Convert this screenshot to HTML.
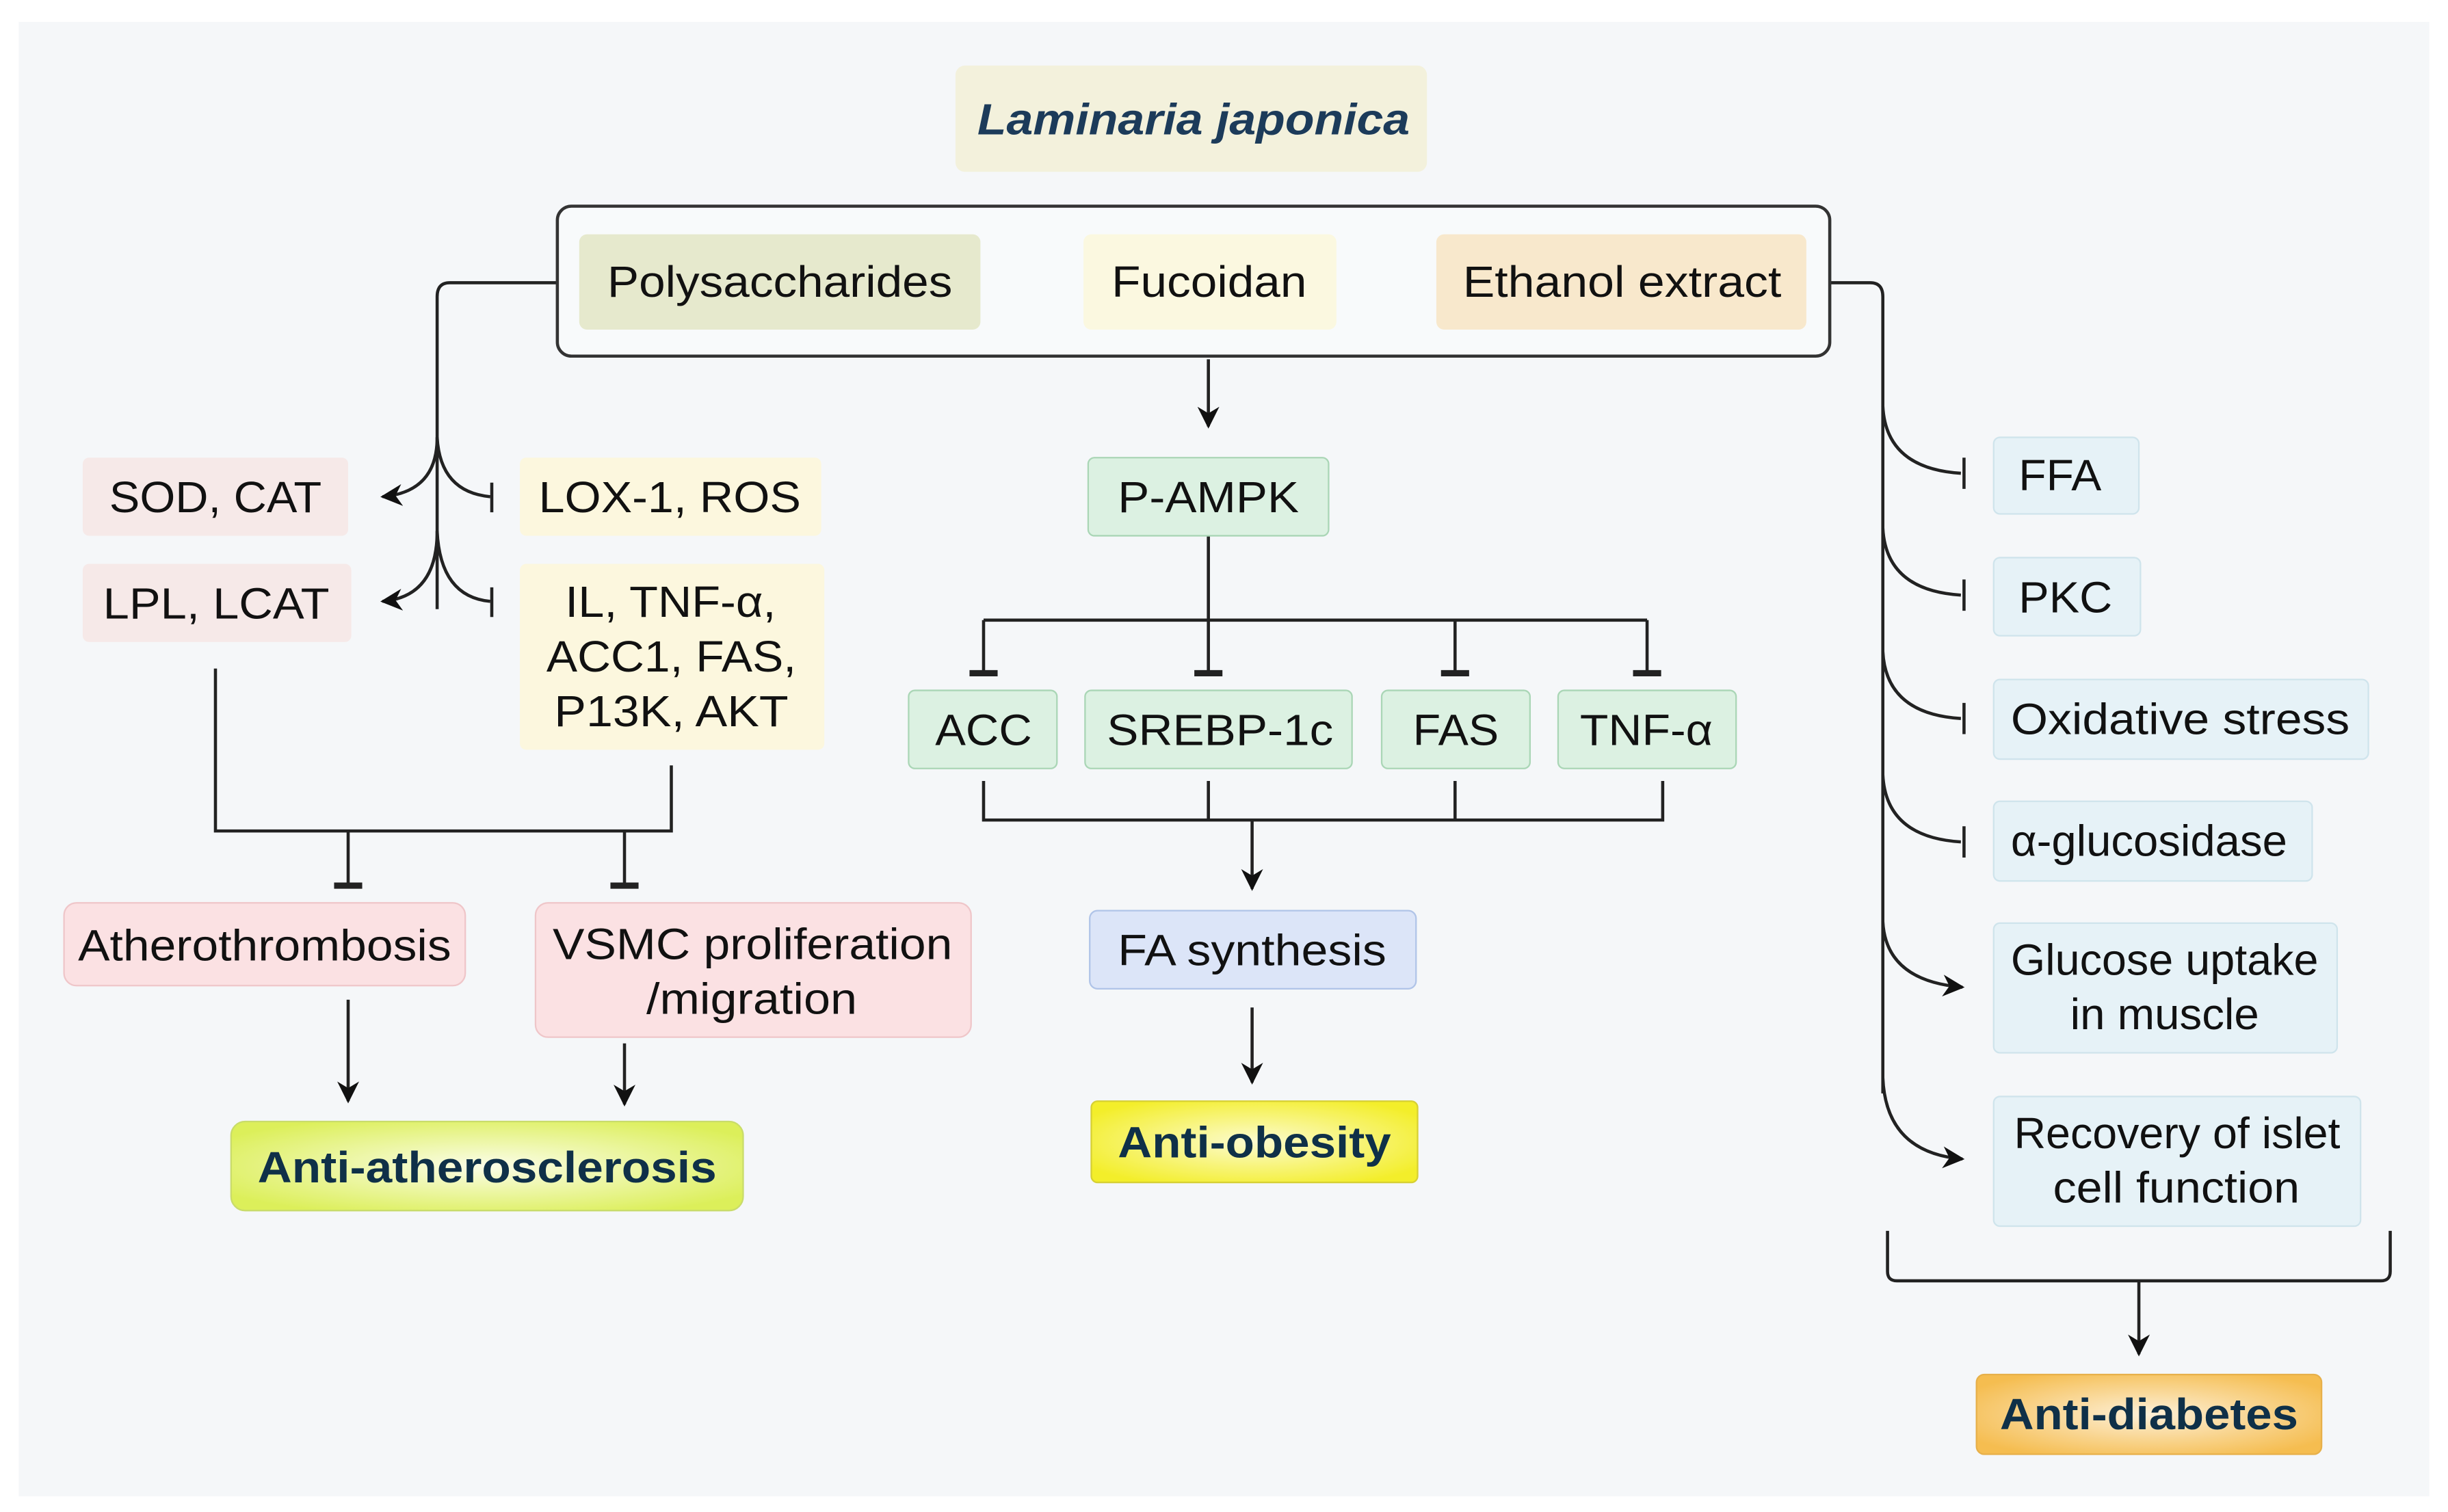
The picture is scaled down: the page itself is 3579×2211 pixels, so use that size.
<!DOCTYPE html>
<html><head><meta charset="utf-8"><style>
html,body{margin:0;padding:0;background:#fff;}
svg{display:block;}
text{font-family:"Liberation Sans",sans-serif;fill:#111;}
</style></head><body>
<svg width="3579" height="2211" viewBox="0 0 1568 968" preserveAspectRatio="none" xmlns="http://www.w3.org/2000/svg">
<defs>
<radialGradient id="gy" cx="50%" cy="50%" r="60%"><stop offset="0" stop-color="#fbfde8"/><stop offset="1" stop-color="#dcef5a"/></radialGradient>
<radialGradient id="gyel" cx="50%" cy="50%" r="60%"><stop offset="0" stop-color="#fcfbd0"/><stop offset="1" stop-color="#f3ee2a"/></radialGradient>
<radialGradient id="gor" cx="50%" cy="50%" r="60%"><stop offset="0" stop-color="#fdf0d8"/><stop offset="1" stop-color="#f5bd50"/></radialGradient>
<marker id="ar" viewBox="0 0 10 10" refX="9" refY="5" markerWidth="7" markerHeight="7" orient="auto"><path d="M0,0 L10,5 L0,10 L3,5 z" fill="#111"/></marker>
</defs>
<rect x="0" y="0" width="1568" height="968" fill="#fff"/>
<rect x="12" y="14" width="1544" height="944" fill="#f5f7f9"/>

<g stroke="#222" stroke-width="2" fill="none">
<path d="M357,181 H288 Q280,181 280,190 V390"/>
<path d="M280,280 Q280,315 245,318" marker-end="url(#ar)"/>
<path d="M280,280 Q282,315 314,318"/><path d="M315,309 V328"/>
<path d="M280,340 Q280,382 245,385" marker-end="url(#ar)"/>
<path d="M280,340 Q282,382 314,385"/><path d="M315,376 V395"/>
<path d="M138,428 V532 H430 V490"/>
<path d="M223,532 V566"/><path d="M400,532 V566"/>
<path d="M223,640 V705" marker-end="url(#ar)"/>
<path d="M400,668 V707" marker-end="url(#ar)"/>
<path d="M774,230 V273" marker-end="url(#ar)"/>
<path d="M774,343 V397 M630,397 H1055 M630,397 V430 M774,397 V430 M932,397 V430 M1055,397 V430"/>
<path d="M630,500 V525 H1065 V500 M774,500 V525 M932,500 V525"/>
<path d="M802,525 V569" marker-end="url(#ar)"/>
<path d="M802,645 V693" marker-end="url(#ar)"/>
<path d="M1172,181 H1198 Q1206,181 1206,190 V700"/>
<path d="M1206,260 Q1208,300 1256,303"/><path d="M1258,293 V313"/>
<path d="M1206,338 Q1208,378 1256,381"/><path d="M1258,371 V391"/>
<path d="M1206,417 Q1208,457 1256,460"/><path d="M1258,450 V470"/>
<path d="M1206,496 Q1208,536 1256,539"/><path d="M1258,529 V549"/>
<path d="M1206,590 Q1208,628 1257,632" marker-end="url(#ar)"/>
<path d="M1206,690 Q1208,738 1257,742" marker-end="url(#ar)"/>
<path d="M1209,788 V814 Q1209,820 1215,820 H1525 Q1531,820 1531,814 V788"/>
<path d="M1370,820 V867" marker-end="url(#ar)"/>
</g>
<g stroke="#222" stroke-width="4">
<path d="M214,567 H232 M391,567 H409 M621,431 H639 M765,431 H783 M923,431 H941 M1046,431 H1064"/>
</g>

<g font-size="28" lengthAdjust="spacingAndGlyphs">
<rect x="612" y="42" width="302" height="68" rx="6" fill="#f3f1dc"/>
<text x="626" y="86" textLength="277" lengthAdjust="spacingAndGlyphs" font-weight="bold" font-style="italic" style="fill:#1c3b5a">Laminaria japonica</text>

<rect x="357" y="132" width="815" height="96" rx="9" fill="#f8fafb" stroke="#333" stroke-width="2"/>
<rect x="371" y="150" width="257" height="61" rx="5" fill="#e6e9cd"/>
<text x="389" y="190" textLength="221" lengthAdjust="spacingAndGlyphs">Polysaccharides</text>
<rect x="694" y="150" width="162" height="61" rx="5" fill="#fbf8e0"/>
<text x="712" y="190" textLength="125" lengthAdjust="spacingAndGlyphs">Fucoidan</text>
<rect x="920" y="150" width="237" height="61" rx="5" fill="#f8e8cc"/>
<text x="937" y="190" textLength="204" lengthAdjust="spacingAndGlyphs">Ethanol extract</text>

<rect x="53" y="293" width="170" height="50" rx="4" fill="#f6e9e8"/>
<text x="70" y="328" textLength="136" lengthAdjust="spacingAndGlyphs">SOD, CAT</text>
<rect x="53" y="361" width="172" height="50" rx="4" fill="#f6e9e8"/>
<text x="66" y="396" textLength="145" lengthAdjust="spacingAndGlyphs">LPL, LCAT</text>
<rect x="333" y="293" width="193" height="50" rx="4" fill="#fcf7de"/>
<text x="345" y="328" textLength="168" lengthAdjust="spacingAndGlyphs">LOX-1, ROS</text>
<rect x="333" y="361" width="195" height="119" rx="4" fill="#fcf7de"/>
<text x="362" y="395" textLength="135" lengthAdjust="spacingAndGlyphs">IL, TNF-α,</text>
<text x="350" y="430" textLength="160" lengthAdjust="spacingAndGlyphs">ACC1, FAS,</text>
<text x="355" y="465" textLength="150" lengthAdjust="spacingAndGlyphs">P13K, AKT</text>

<rect x="41" y="578" width="257" height="53" rx="8" fill="#fbe1e3" stroke="#efc6c9"/>
<text x="50" y="615" textLength="239" lengthAdjust="spacingAndGlyphs">Atherothrombosis</text>
<rect x="343" y="578" width="279" height="86" rx="8" fill="#fbe1e3" stroke="#efc6c9"/>
<text x="354" y="614" textLength="256" lengthAdjust="spacingAndGlyphs">VSMC proliferation</text>
<text x="414" y="649" textLength="135" lengthAdjust="spacingAndGlyphs">/migration</text>
<rect x="148" y="718" width="328" height="57" rx="9" fill="url(#gy)" stroke="#c9dc6a"/>
<text x="165" y="757" textLength="294" lengthAdjust="spacingAndGlyphs" font-weight="bold" style="fill:#0f3048">Anti-atherosclerosis</text>

<rect x="697" y="293" width="154" height="50" rx="4" fill="#dcf1e2" stroke="#aad6b6"/>
<text x="716" y="328" textLength="116" lengthAdjust="spacingAndGlyphs">P-AMPK</text>
<rect x="582" y="442" width="95" height="50" rx="4" fill="#dcf1e2" stroke="#aad6b6"/>
<text x="599" y="477" textLength="62" lengthAdjust="spacingAndGlyphs">ACC</text>
<rect x="695" y="442" width="171" height="50" rx="4" fill="#dcf1e2" stroke="#aad6b6"/>
<text x="709" y="477" textLength="145" lengthAdjust="spacingAndGlyphs">SREBP-1c</text>
<rect x="885" y="442" width="95" height="50" rx="4" fill="#dcf1e2" stroke="#aad6b6"/>
<text x="905" y="477" textLength="55" lengthAdjust="spacingAndGlyphs">FAS</text>
<rect x="998" y="442" width="114" height="50" rx="4" fill="#dcf1e2" stroke="#aad6b6"/>
<text x="1012" y="477" textLength="85" lengthAdjust="spacingAndGlyphs">TNF-α</text>
<rect x="698" y="583" width="209" height="50" rx="5" fill="#dce5f8" stroke="#b0c4e8"/>
<text x="716" y="618" textLength="172" lengthAdjust="spacingAndGlyphs">FA synthesis</text>
<rect x="699" y="705" width="209" height="52" rx="4" fill="url(#gyel)" stroke="#d6d034"/>
<text x="716" y="741" textLength="175" lengthAdjust="spacingAndGlyphs" font-weight="bold" style="fill:#0f3048">Anti-obesity</text>

<g fill="#e6f2f7" stroke="#cfe4ec">
<rect x="1277" y="280" width="93" height="49" rx="4"/>
<rect x="1277" y="357" width="94" height="50" rx="4"/>
<rect x="1277" y="435" width="240" height="51" rx="4"/>
<rect x="1277" y="513" width="204" height="51" rx="4"/>
<rect x="1277" y="591" width="220" height="83" rx="4"/>
<rect x="1277" y="702" width="235" height="83" rx="4"/>
</g>
<text x="1293" y="314" textLength="53" lengthAdjust="spacingAndGlyphs">FFA</text>
<text x="1293" y="392" textLength="60" lengthAdjust="spacingAndGlyphs">PKC</text>
<text x="1288" y="470" textLength="217" lengthAdjust="spacingAndGlyphs">Oxidative stress</text>
<text x="1288" y="548" textLength="177" lengthAdjust="spacingAndGlyphs">α-glucosidase</text>
<text x="1288" y="624" textLength="197" lengthAdjust="spacingAndGlyphs">Glucose uptake</text>
<text x="1326" y="659" textLength="121" lengthAdjust="spacingAndGlyphs">in muscle</text>
<text x="1290" y="735" textLength="209" lengthAdjust="spacingAndGlyphs">Recovery of islet</text>
<text x="1315" y="770" textLength="158" lengthAdjust="spacingAndGlyphs">cell function</text>
<rect x="1266" y="880" width="221" height="51" rx="5" fill="url(#gor)" stroke="#e7b04a"/>
<text x="1281" y="915" textLength="191" lengthAdjust="spacingAndGlyphs" font-weight="bold" style="fill:#0f3048">Anti-diabetes</text>
</g>
</svg>
</body></html>
